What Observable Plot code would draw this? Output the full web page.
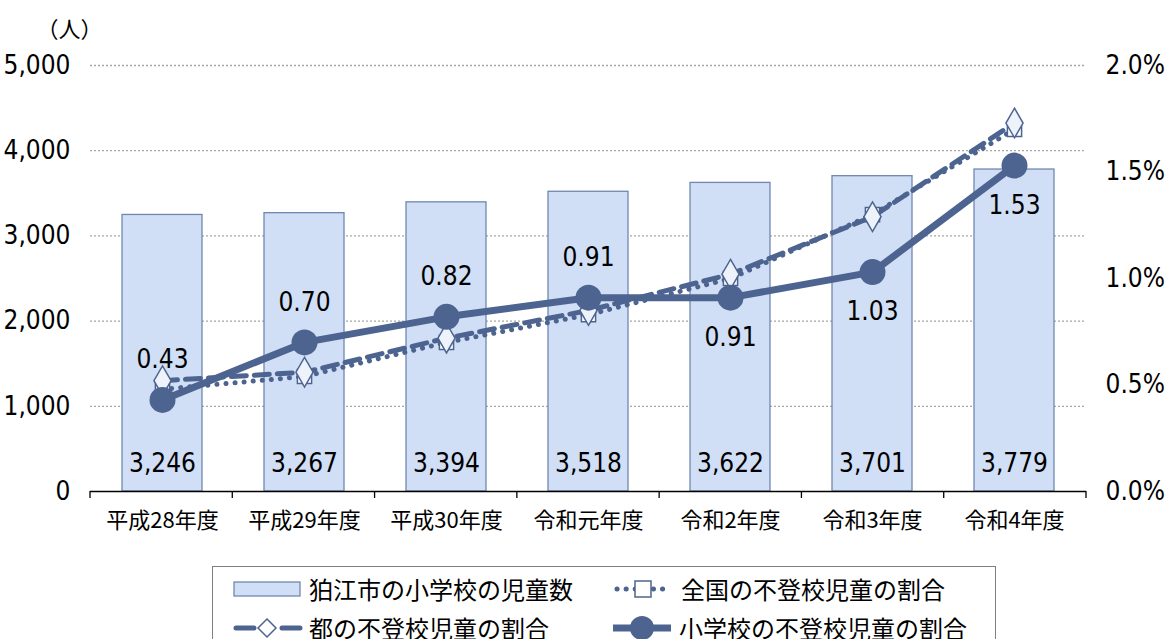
<!DOCTYPE html>
<html><head><meta charset="utf-8">
<script src="https://cdn.jsdelivr.net/npm/d3@7"></script>
<script src="https://cdn.jsdelivr.net/npm/@observablehq/plot@0.6"></script>
<style>
body{margin:0;background:#fff;font-family:"Noto Sans CJK JP",sans-serif;}
#wrap{position:relative;width:1167px;height:639px;overflow:hidden}
#legend{position:absolute;left:212px;top:566px;width:784px;height:90px;border:1px solid #7f7f7f;box-sizing:border-box;background:#fff}
.item{position:absolute;display:flex;align-items:center;font-size:24px;line-height:1;color:#000;white-space:nowrap}
.item svg{margin-right:6px}
</style></head>
<body><div id="wrap"><div id="chart"></div><div id="legend"></div></div>
<script>
// ---- data ----
const years = ["平成28年度","平成29年度","平成30年度","令和元年度","令和2年度","令和3年度","令和4年度"];
const pupils = [3246, 3267, 3394, 3518, 3622, 3701, 3779];
const national = [0.48, 0.54, 0.70, 0.83, 1.00, 1.30, 1.70];
const tokyo = [0.52, 0.56, 0.72, 0.85, 1.02, 1.29, 1.73];
const school = [0.43, 0.70, 0.82, 0.91, 0.91, 1.03, 1.53];
const labelSide = ["above","above","above","above","below","below","below"];
const countTicks = [0, 1000, 2000, 3000, 4000, 5000];
const pctTicks = [0, 0.5, 1.0, 1.5, 2.0];
const seriesNames = ["狛江市の小学校の児童数","全国の不登校児童の割合","都の不登校児童の割合","小学校の不登校児童の割合"];
const countMax = 5000, pctMax = 2.0;

const k = countMax / pctMax;
const C_LINE = "#4d6490", C_BAR = "#d0dff6", C_BARSTROKE = "#7187b0";
const NUMFONT = '"DejaVu Sans Condensed","Liberation Sans Narrow","Noto Sans CJK JP",sans-serif';

const rows = years.map((y, i) => ({year: y, count: pupils[i], nat: national[i], tok: tokyo[i], sch: school[i], side: labelSide[i]}));

function bandTicks(index, scales, values, dims) {
  const g = d3.create("svg:g");
  const n = years.length;
  const w = (dims.width - dims.marginLeft - dims.marginRight) / n;
  const y0 = scales.y(0);
  for (let i = 0; i <= n; i++) {
    const x = dims.marginLeft + i * w;
    g.append("line").attr("x1", x).attr("x2", x).attr("y1", y0).attr("y2", y0 + 7).attr("stroke", "#000").attr("stroke-width", 1.3);
  }
  return g.node();
}

const plot = Plot.plot({
  width: 1167, height: 560,
  marginLeft: 90, marginRight: 81, marginTop: 65, marginBottom: 69,
  style: {fontFamily: '"Noto Sans CJK JP",sans-serif', fontSize: "22px", color: "#000", background: "#fff", overflow: "visible"},
  x: {domain: years, paddingInner: 0.44, paddingOuter: 0.22, label: null},
  y: {domain: [0, countMax], label: null},
  marks: [
    Plot.gridY(countTicks.filter(d => d > 0), {stroke: "#a6a6a6", strokeOpacity: 1, strokeDasharray: "2 2", strokeWidth: 1.3}),
    Plot.barY(rows, {x: "year", y: "count", fill: C_BAR, stroke: C_BARSTROKE, strokeWidth: 1.3}),
    Plot.ruleY([0], {stroke: "#000", strokeWidth: 1.3}),
    bandTicks,
    Plot.axisY(countTicks, {tickSize: 0, tickPadding: 20, tickFormat: d3.format(","), fontSize: 26, fontFamily: NUMFONT, label: null}),
    Plot.axisY(pctTicks.map(p => p * k), {anchor: "right", tickSize: 0, tickPadding: 19, tickFormat: d => (d / k).toFixed(1) + "%", fontSize: 26, fontFamily: NUMFONT, label: null}),
    Plot.axisX({tickSize: 0, tickPadding: 21, fontSize: 22, label: null}),
    Plot.text(["（人）"], {frameAnchor: "top-left", dx: -54, dy: -44, fontSize: 22, textAnchor: "start"}),
    Plot.line(rows, {x: "year", y: d => d.nat * k, stroke: C_LINE, strokeWidth: 5, strokeDasharray: "0.1 9", strokeLinecap: "round"}),
    Plot.line(rows, {x: "year", y: d => d.tok * k, stroke: C_LINE, strokeWidth: 5, strokeDasharray: "15 8", strokeLinecap: "round"}),
    Plot.dot(rows, {x: "year", y: d => d.nat * k, symbol: "square", r: 8, fill: "#fff", stroke: C_LINE, strokeWidth: 1.5}),
    Plot.dot(rows, {x: "year", y: d => d.tok * k, symbol: "diamond", r: 9, fill: "#eef3fb", stroke: C_LINE, strokeWidth: 1.5}),
    Plot.line(rows, {x: "year", y: d => d.sch * k, stroke: C_LINE, strokeWidth: 7}),
    Plot.dot(rows, {x: "year", y: d => d.sch * k, r: 13, fill: C_LINE}),
    Plot.text(rows.filter(d => d.side === "above"), {x: "year", y: d => d.sch * k, text: d => d.sch.toFixed(2), dy: -40, fontSize: 26, fontFamily: NUMFONT, fill: "#000"}),
    Plot.text(rows.filter(d => d.side === "below"), {x: "year", y: d => d.sch * k, text: d => d.sch.toFixed(2), dy: 40, fontSize: 26, fontFamily: NUMFONT, fill: "#000"}),
    Plot.text(rows, {x: "year", y: 0, text: d => d3.format(",")(d.count), dy: -28, fontSize: 26, fontFamily: NUMFONT, fill: "#000"})
  ]
});
document.getElementById("chart").appendChild(plot);

// legend
const legend = document.getElementById("legend");
const sw = {
  bar: `<svg width="70" height="20"><rect x="1" y="3" width="66" height="14" fill="${C_BAR}" stroke="${C_BARSTROKE}" stroke-width="1.3"/></svg>`,
  nat: `<svg width="62" height="24"><line x1="4" x2="58" y1="12" y2="12" stroke="${C_LINE}" stroke-width="5" stroke-dasharray="0.1 9" stroke-linecap="round"/><rect x="22" y="4" width="16" height="16" fill="#fff" stroke="${C_LINE}" stroke-width="1.5"/></svg>`,
  tok: `<svg width="70" height="24"><line x1="3" x2="67" y1="12" y2="12" stroke="${C_LINE}" stroke-width="5" stroke-dasharray="18 28" stroke-linecap="round"/><path d="M34 3 L43 12 L34 21 L25 12 Z" fill="#fff" stroke="${C_LINE}" stroke-width="1.5"/></svg>`,
  sch: `<svg width="62" height="28"><line x1="2" x2="60" y1="14" y2="14" stroke="${C_LINE}" stroke-width="7"/><circle cx="31" cy="14" r="12" fill="${C_LINE}"/></svg>`
};
const items = [
  {key: "bar", name: seriesNames[0], left: 20, top: 10},
  {key: "nat", name: seriesNames[1], left: 400, top: 10},
  {key: "tok", name: seriesNames[2], left: 20, top: 49},
  {key: "sch", name: seriesNames[3], left: 398, top: 47}
];
for (const it of items) {
  const d = document.createElement("div");
  d.className = "item";
  d.style.left = it.left + "px"; d.style.top = it.top + "px";
  d.innerHTML = sw[it.key] + `<span>${it.name}</span>`;
  legend.appendChild(d);
}
</script></body></html>
